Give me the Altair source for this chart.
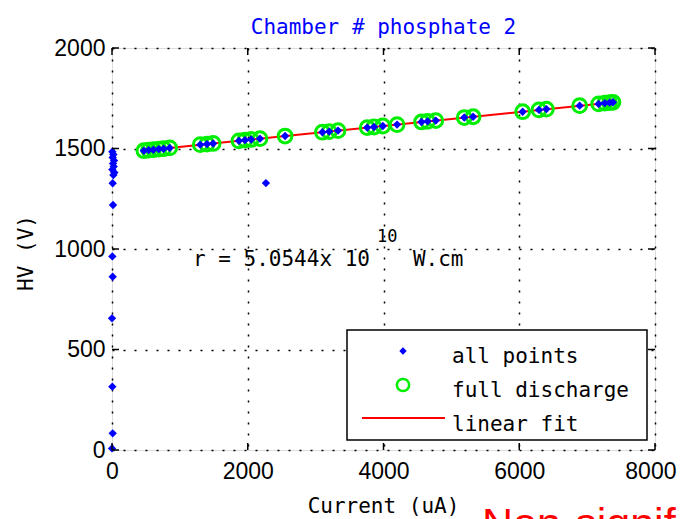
import altair as alt
import pandas as pd

# ---- data ----
# low-current points (vertical column near x = 0)
left_x = [5, 20, 10, 30, 15, 25, 5, 35, 20, 10, 15, 5, 10, 0, 5, 10, 0]
left_y = [1484, 1470, 1455, 1440, 1425, 1410, 1395, 1380, 1368, 1327, 1219, 963, 862, 655, 315, 83, 8]

# full discharge points (lie along the fit)
full_x = [470, 540, 610, 690, 760, 850, 1300, 1400, 1490, 1870, 1960, 2050, 2180, 2550,
          3100, 3200, 3330, 3760, 3860, 3990, 4200, 4560, 4650, 4770, 5190, 5320,
          6050, 6290, 6400, 6890, 7170, 7260, 7330, 7380]
full_y = [1489, 1492, 1494, 1497, 1499, 1503, 1519, 1522, 1525, 1538, 1542, 1545, 1549, 1562,
          1581, 1584, 1589, 1604, 1607, 1612, 1619, 1632, 1635, 1639, 1654, 1658,
          1683, 1692, 1696, 1713, 1722, 1726, 1728, 1730]

# isolated outlier
out_x = [2268]
out_y = [1328]

# linear fit end points
fit_x = [460, 7330]
fit_y = [1489, 1728]

x_ticks = [0, 2000, 4000, 6000, 8000]
y_ticks = [0, 500, 1000, 1500, 2000]

title_text = "Chamber # phosphate 2"
x_title = "Current (uA)"
y_title = "HV (V)"
legend_labels = ["all points", "full discharge", "linear fit"]
note_main = "r = 5.0544x 10"
note_sup = "10"
note_unit = "W.cm"
note_red = "Non-significant"

# ---- build tables ----
df_all = pd.DataFrame({"x": left_x + full_x + out_x, "y": left_y + full_y + out_y})
df_full = pd.DataFrame({"x": full_x, "y": full_y})
df_fit = pd.DataFrame({"x": fit_x, "y": fit_y})
df_xt = pd.DataFrame({"v": x_ticks})
df_yt = pd.DataFrame({"v": y_ticks})

W, H = 543, 402
MONO = "DejaVu Sans Mono"
NUM = "Liberation Sans"

xs = alt.Scale(domain=[0, 8000], nice=False, zero=False)
ys = alt.Scale(domain=[0, 2000], nice=False, zero=False)

last_x = f"datum.value == {x_ticks[-1]}"
xaxis = alt.Axis(values=x_ticks, format="d", title=None, grid=True, gridDash=[2, 9], gridColor="#000000",
                 gridWidth=1.5, gridOpacity=1, domain=False, ticks=False, labelFont=NUM,
                 labelFontSize=23, labelColor="#000000", labelPadding=10, labelFlush=False,
                 labelAlign={"condition": {"test": last_x, "value": "right"}, "value": "center"},
                 labelOffset={"condition": {"test": last_x, "value": 21}, "value": 0})
yaxis = alt.Axis(values=y_ticks, format="d", title=None, grid=True, gridDash=[2, 9], gridColor="#000000",
                 gridWidth=1.5, gridOpacity=1, domain=False, ticks=False, labelFont=NUM,
                 labelFontSize=23, labelColor="#000000", labelPadding=7, labelFlush=False)

base = alt.Chart(df_all).mark_point(opacity=0).encode(
    x=alt.X("x:Q", scale=xs, axis=xaxis),
    y=alt.Y("y:Q", scale=ys, axis=yaxis),
)

full_layer = alt.Chart(df_full).mark_point(
    shape="circle", filled=False, color="#00ee00", strokeWidth=3, size=190, opacity=1
).encode(x=alt.X("x:Q", scale=xs), y=alt.Y("y:Q", scale=ys))

all_layer = alt.Chart(df_all).mark_point(
    shape="diamond", filled=True, color="#0000ff", size=70, opacity=1
).encode(x=alt.X("x:Q", scale=xs), y=alt.Y("y:Q", scale=ys))

fit_layer = alt.Chart(df_fit).mark_line(color="#ff0000", strokeWidth=2).encode(
    x=alt.X("x:Q", scale=xs), y=alt.Y("y:Q", scale=ys))

# inward ticks on all four sides
tk = 7
xt_bot = alt.Chart(df_xt).mark_rule(color="#000000", strokeWidth=1.5).encode(
    x=alt.X("v:Q", scale=xs), y=alt.value(H), y2=alt.value(H - tk))
xt_top = alt.Chart(df_xt).mark_rule(color="#000000", strokeWidth=1.5).encode(
    x=alt.X("v:Q", scale=xs), y=alt.value(0), y2=alt.value(tk))
yt_left = alt.Chart(df_yt).mark_rule(color="#000000", strokeWidth=1.5).encode(
    y=alt.Y("v:Q", scale=ys), x=alt.value(0), x2=alt.value(tk))
yt_right = alt.Chart(df_yt).mark_rule(color="#000000", strokeWidth=1.5).encode(
    y=alt.Y("v:Q", scale=ys), x=alt.value(W), x2=alt.value(W - tk))

# annotation text (anchored in data space)
df_note = pd.DataFrame({"x": [1193, 3903, 4433], "y": [915, 1035, 915],
                        "t": [note_main, note_sup, note_unit], "s": [21, 17, 21]})
note_layer = alt.Chart(df_note).mark_text(
    font=MONO, align="left", baseline="alphabetic", color="#000000"
).encode(x=alt.X("x:Q", scale=xs), y=alt.Y("y:Q", scale=ys), text="t:N",
         size=alt.Size("s:Q", scale=None, legend=None))

# titles
def label(txt, x, y, size=21, color="#000000", angle=0, font=MONO, baseline="alphabetic", align="center"):
    return alt.Chart(pd.DataFrame({"t": [txt]})).mark_text(
        font=font, fontSize=size, color=color, angle=angle, baseline=baseline, align=align
    ).encode(text="t:N", x=alt.value(x), y=alt.value(y))

title_layer = label(title_text, W / 2, -14, color="#0000ff")
xtitle_layer = label(x_title, W / 2, 465)
ytitle_layer = label(y_title, -85, 205, angle=270, baseline="middle")
red_layer = label(note_red, 370, 490, size=43, color="#ff0000", font="Liberation Sans", align="left")

# legend box (MATLAB style)
lx0, lx1, ly0, ly1 = 235, 535, 282, 392
leg_box = alt.Chart(pd.DataFrame({"a": [0]})).mark_rect(
    fill="#ffffff", stroke="#000000", strokeWidth=1.5
).encode(x=alt.value(lx0), x2=alt.value(lx1), y=alt.value(ly0), y2=alt.value(ly1))
leg_d = alt.Chart(pd.DataFrame({"a": [0]})).mark_point(
    shape="diamond", filled=True, color="#0000ff", size=55, opacity=1
).encode(x=alt.value(291), y=alt.value(303))
leg_c = alt.Chart(pd.DataFrame({"a": [0]})).mark_point(
    shape="circle", filled=False, color="#00ee00", strokeWidth=2.5, size=150, opacity=1
).encode(x=alt.value(291), y=alt.value(337))
leg_l = alt.Chart(pd.DataFrame({"a": [0]})).mark_rule(color="#ff0000", strokeWidth=2).encode(
    x=alt.value(250), x2=alt.value(333), y=alt.value(370))
leg_t = [label(legend_labels[i], 340, [315, 349, 383][i], align="left") for i in range(3)]

chart = alt.layer(
    base, fit_layer, full_layer, all_layer, note_layer,
    xt_bot, xt_top, yt_left, yt_right,
    leg_box, leg_d, leg_c, leg_l, *leg_t,
    title_layer, xtitle_layer, ytitle_layer, red_layer,
).properties(
    width=W, height=H,
    autosize=alt.AutoSizeParams(type="none"),
    padding={"left": 104, "top": 40, "right": 22, "bottom": 70},
).configure_view(
    stroke="#000000", strokeWidth=2
).configure(background="#ffffff")

chart.save("out.html", embed_options={"renderer": "svg", "actions": False})
